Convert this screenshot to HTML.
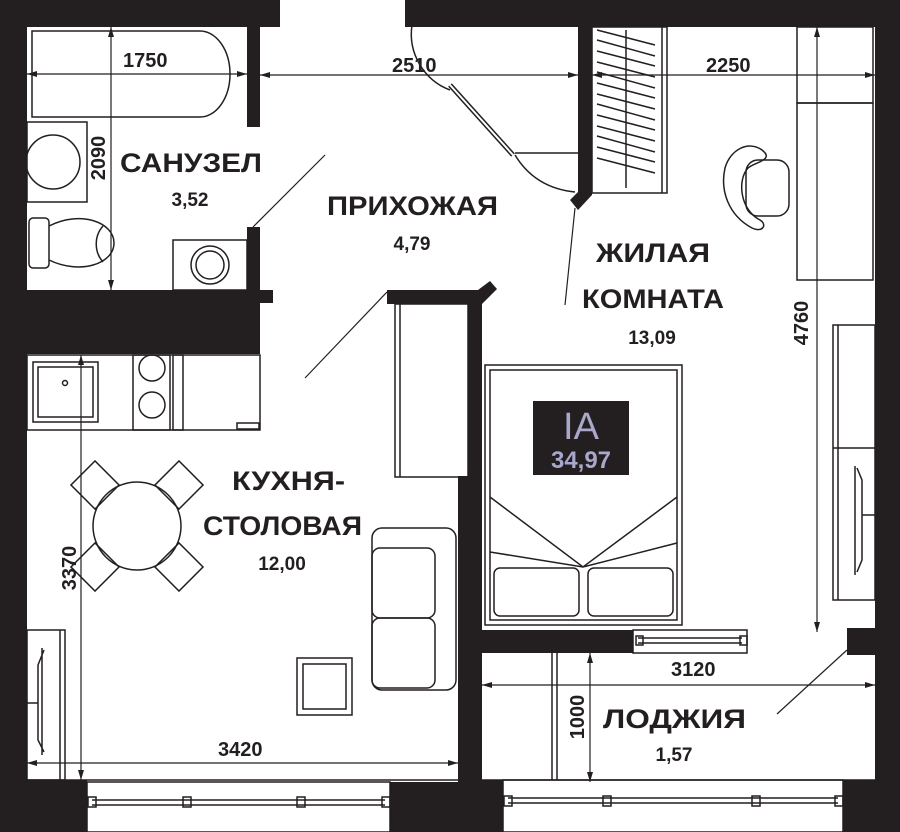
<!DOCTYPE html>
<html><head><meta charset="utf-8"><style>
html,body{margin:0;padding:0;background:#fff;}
svg{display:block;}
text{font-family:"Liberation Sans","DejaVu Sans",sans-serif;fill:#231f20;}
</style></head><body>
<svg width="900" height="832" viewBox="0 0 900 832" xmlns="http://www.w3.org/2000/svg">
<defs>
<marker id="ar" viewBox="0 0 10 6" refX="10" refY="3" markerWidth="10" markerHeight="6" orient="auto-start-reverse" markerUnits="userSpaceOnUse"><path d="M0,0 L10,3 L0,6 Z" fill="#231f20"/></marker>
</defs>
<g fill="#231f20">
<rect x="0" y="0" width="27" height="832"/>
<rect x="0" y="0" width="280" height="27"/>
<rect x="405" y="0" width="495" height="27"/>
<rect x="875" y="0" width="25" height="832"/>
<rect x="247" y="27" width="13" height="100"/>
<rect x="247" y="227" width="13" height="63"/>
<rect x="27" y="290" width="233" height="64"/>
<rect x="260" y="290" width="13" height="13"/>
<rect x="387" y="290" width="93" height="14"/>
<polygon points="478,290 490,281 497,289 482,304"/>
<rect x="468" y="290" width="14" height="190"/>
<rect x="458" y="476" width="24" height="356"/>
<rect x="458" y="630" width="175" height="23"/>
<rect x="578" y="27" width="14" height="168"/>
<polygon points="570,200 580,190 592,195 578,210"/>
<rect x="847" y="628" width="28" height="27"/>
<rect x="0" y="780" width="87" height="52"/>
<rect x="390" y="782" width="68" height="50"/>
<rect x="458" y="780" width="45" height="52"/>
<rect x="843" y="780" width="57" height="52"/>
</g>
<g fill="none" stroke="#231f20" stroke-width="1.5">
<path d="M32,31 H200 A30,43 0 0 1 200,117 H32 Z"/>
<rect x="27" y="122" width="60" height="80"/>
<circle cx="53" cy="162" r="27"/>
<rect x="29" y="218" width="20" height="50" rx="4"/>
<path d="M49,226 C80,210 114,222 114,243 C114,264 80,275 49,260"/>
<path d="M103,226 C94,236 94,252 103,262"/>
<rect x="173" y="240" width="74" height="50"/>
<circle cx="210" cy="265" r="19"/>
<circle cx="210" cy="265" r="14"/>
<path d="M412,25 A60,60 0 0 0 450,90"/>
<path d="M450,85 L513,155" stroke-width="5"/>
<path d="M450,85 L513,155" stroke="#fff" stroke-width="2"/>
<path d="M515,153 H578"/>
<path d="M515,155 Q535,188 575,192"/>
<rect x="592" y="27" width="75" height="166"/>
<line x1="662" y1="27" x2="662" y2="193"/>
<line x1="626" y1="30" x2="626" y2="188"/>
<rect x="797" y="27" width="76" height="76"/>
<rect x="797" y="103" width="76" height="177"/>
<path d="M762,150 C748,140 730,150 725,168 C720,190 728,215 752,228 C762,233 768,225 760,220 C740,210 737,180 748,168 C755,162 775,160 762,150Z"/>
<rect x="746" y="160" width="43" height="56" rx="12"/>
<rect x="833" y="325" width="42" height="275"/>
<line x1="838" y1="325" x2="838" y2="600"/>
<line x1="833" y1="448" x2="875" y2="448"/>
<path d="M855,466 V575 M857,468 L862,480 V560 L857,572 M862,515 H875"/>
<rect x="485" y="365" width="197" height="260"/>
<rect x="490" y="370" width="187" height="250"/>
<path d="M490,497 L583,567 L677,497 M490,552 L583,567 L677,543"/>
<rect x="494" y="568" width="85" height="48" rx="6"/>
<rect x="588" y="568" width="85" height="48" rx="6"/>
<rect x="395" y="304" width="73" height="173"/>
<line x1="400" y1="304" x2="400" y2="477"/>
<rect x="372" y="528" width="84" height="162" rx="10"/>
<rect x="372" y="548" width="63" height="70" rx="8"/>
<rect x="372" y="618" width="63" height="70" rx="8"/>
<rect x="27" y="355" width="233" height="75"/>
<rect x="33" y="362" width="65" height="60"/>
<rect x="38" y="367" width="55" height="50"/>
<rect x="133" y="355" width="37" height="75"/>
<circle cx="152" cy="368" r="13"/>
<circle cx="152" cy="405" r="13"/>
<rect x="173" y="355" width="10" height="75"/>
<rect x="237" y="423" width="22" height="6"/>
<circle cx="65" cy="383" r="2.5"/>
<circle cx="137" cy="526" r="44"/>
<rect x="-17" y="-17" width="34" height="34" transform="translate(95,485) rotate(45)"/>
<rect x="-17" y="-17" width="34" height="34" transform="translate(179,485) rotate(45)"/>
<rect x="-17" y="-17" width="34" height="34" transform="translate(95,567) rotate(45)"/>
<rect x="-17" y="-17" width="34" height="34" transform="translate(179,567) rotate(45)"/>
<rect x="297" y="658" width="55" height="57"/>
<rect x="303" y="664" width="43" height="45"/>
<rect x="27" y="630" width="38" height="150"/>
<line x1="60" y1="630" x2="60" y2="780"/>
<path d="M42,648 V755 M44,650 L38,665 V740 L44,752 M27,703 H38"/>
<rect x="87" y="782" width="303" height="50"/>
<line x1="92" y1="800" x2="385" y2="800"/><line x1="92" y1="805" x2="385" y2="805"/>
<rect x="88" y="797" width="8" height="10"/><rect x="183" y="797" width="8" height="10"/><rect x="297" y="797" width="8" height="10"/><rect x="382" y="797" width="8" height="10"/>
<rect x="503" y="780" width="340" height="52"/>
<line x1="508" y1="798" x2="838" y2="798"/><line x1="508" y1="803" x2="838" y2="803"/>
<rect x="504" y="796" width="8" height="10"/><rect x="603" y="796" width="8" height="10"/><rect x="752" y="796" width="8" height="10"/><rect x="835" y="796" width="8" height="10"/>
<rect x="633" y="630" width="114" height="23"/>
<line x1="638" y1="638" x2="742" y2="638"/><line x1="638" y1="643" x2="742" y2="643"/>
<rect x="636" y="636" width="7" height="9"/><rect x="740" y="636" width="7" height="9"/>
<line x1="552" y1="653" x2="552" y2="780"/><line x1="557" y1="653" x2="557" y2="780"/>
<line x1="482" y1="780" x2="875" y2="780"/>
<line x1="27" y1="780" x2="458" y2="780"/>
</g>
<g stroke="#231f20" stroke-width="1.5">
<line x1="597" y1="30" x2="655" y2="45"/><line x1="597" y1="40" x2="655" y2="56"/><line x1="597" y1="51" x2="655" y2="66"/><line x1="597" y1="62" x2="655" y2="77"/><line x1="597" y1="72" x2="655" y2="88"/><line x1="597" y1="83" x2="655" y2="98"/><line x1="597" y1="94" x2="655" y2="109"/><line x1="597" y1="104" x2="655" y2="120"/><line x1="597" y1="115" x2="655" y2="130"/><line x1="597" y1="126" x2="655" y2="141"/><line x1="597" y1="136" x2="655" y2="152"/><line x1="597" y1="147" x2="655" y2="162"/><line x1="597" y1="158" x2="655" y2="173"/>
</g>
<g stroke="#231f20" stroke-width="1.2" fill="none">
<line x1="27" y1="74" x2="247" y2="74" marker-start="url(#ar)" marker-end="url(#ar)"/>
<line x1="260" y1="75" x2="578" y2="75" marker-start="url(#ar)" marker-end="url(#ar)"/>
<line x1="592" y1="75" x2="875" y2="75" marker-start="url(#ar)" marker-end="url(#ar)"/>
<line x1="111" y1="27" x2="111" y2="290" marker-start="url(#ar)" marker-end="url(#ar)"/>
<line x1="817" y1="27" x2="817" y2="632" marker-start="url(#ar)" marker-end="url(#ar)"/>
<line x1="81" y1="355" x2="81" y2="780" marker-start="url(#ar)" marker-end="url(#ar)"/>
<line x1="27" y1="763" x2="458" y2="763" marker-start="url(#ar)" marker-end="url(#ar)"/>
<line x1="482" y1="685" x2="875" y2="685" marker-start="url(#ar)" marker-end="url(#ar)"/>
<line x1="590" y1="653" x2="590" y2="782" marker-start="url(#ar)" marker-end="url(#ar)"/>
<line x1="253" y1="227" x2="325" y2="155"/>
<line x1="387" y1="292" x2="305" y2="378"/>
<line x1="575" y1="208" x2="565" y2="305"/>
<line x1="847" y1="650" x2="777" y2="714"/>
</g>
<g font-weight="bold" font-size="20">
<text x="123" y="67">1750</text>
<text x="392" y="72">2510</text>
<text x="706" y="72">2250</text>
<text x="218" y="756">3420</text>
<text x="671" y="676">3120</text>
<text transform="translate(105,158) rotate(-90)" text-anchor="middle">2090</text>
<text transform="translate(808,323) rotate(-90)" text-anchor="middle">4760</text>
<text transform="translate(76,568) rotate(-90)" text-anchor="middle">3370</text>
<text transform="translate(584,717) rotate(-90)" text-anchor="middle">1000</text>
</g>
<g font-size="27" font-weight="bold">
<text x="120" y="172" textLength="142" lengthAdjust="spacingAndGlyphs">САНУЗЕЛ</text>
<text x="327" y="215" textLength="171" lengthAdjust="spacingAndGlyphs">ПРИХОЖАЯ</text>
<text x="596" y="262" textLength="114" lengthAdjust="spacingAndGlyphs">ЖИЛАЯ</text>
<text x="582" y="308" textLength="142" lengthAdjust="spacingAndGlyphs">КОМНАТА</text>
<text x="232" y="490" textLength="113" lengthAdjust="spacingAndGlyphs">КУХНЯ-</text>
<text x="203" y="535" textLength="159" lengthAdjust="spacingAndGlyphs">СТОЛОВАЯ</text>
<text x="603" y="728" textLength="143" lengthAdjust="spacingAndGlyphs">ЛОДЖИЯ</text>
</g>
<g font-size="19" text-anchor="middle" font-weight="bold">
<text x="190" y="206">3,52</text>
<text x="412" y="250">4,79</text>
<text x="652" y="344">13,09</text>
<text x="282" y="570">12,00</text>
<text x="674" y="761">1,57</text>
</g>
<rect x="533" y="401" width="96" height="74" fill="#231f20"/>
<text x="581" y="439" text-anchor="middle" font-size="38" style="fill:#a9a7cc">IA</text>
<text x="581" y="468" text-anchor="middle" font-size="24" font-weight="bold" style="fill:#a9a7cc">34,97</text>
</svg>
</body></html>
